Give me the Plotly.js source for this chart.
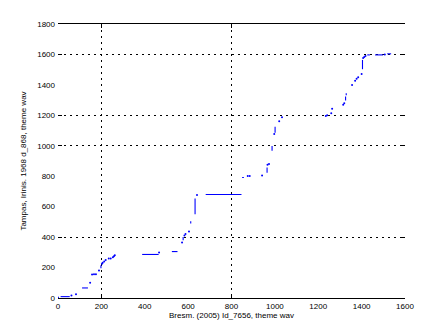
<!DOCTYPE html>
<html>
<head>
<meta charset="utf-8">
<script src="https://cdn.plot.ly/plotly-3.0.1.min.js"></script>
<style>html,body{margin:0;padding:0;background:#fff;}#chart{width:447px;height:335px;}</style>
</head>
<body>
<div id="chart"></div>
<script>
// isolated points
const dotsX = [0, 62, 83, 148, 157, 166, 175, 189, 203, 206, 213, 220, 234, 243, 253, 258, 262,
  466, 572, 583, 588, 604, 641, 875, 884, 941, 966, 973, 997, 1020, 1033,
  1235, 1241, 1260, 1264, 1315, 1320, 1356, 1370, 1377, 1384, 1400, 1407, 1412, 1418, 1507];
const dotsY = [3, 16, 24, 101, 154, 156, 156, 180, 225, 232, 240, 250, 259, 259, 268, 275, 281,
  299, 364, 411, 421, 437, 676, 801, 801, 805, 876, 881, 1078, 1161, 1187,
  1196, 1200, 1213, 1244, 1270, 1280, 1400, 1428, 1440, 1451, 1472, 1576, 1583, 1589, 1599];
// runs of points (start/end pairs, null-separated)
const runsX = [12, 54, null, 111, 138, null, 198, 198, null, 388, 464, null, 525, 551, null,
  577, 577, null, 612, 612, null, 632, 632, null, 681, 846, null, 849, 857, null,
  964, 964, null, 987, 987, null, 1001, 1001, null, 1326, 1326, null, 1329, 1329, null,
  1404, 1404, null, 1426, 1438, null, 1462, 1499, null, 1518, 1536];
const runsY = [9, 9, null, 66, 66, null, 195, 215, null, 286, 286, null, 305, 305, null,
  380, 400, null, 490, 505, null, 551, 654, null, 680, 680, null, 792, 792, null,
  823, 858, null, 967, 998, null, 1086, 1125, null, 1297, 1323, null, 1332, 1345, null,
  1503, 1564, null, 1597, 1597, null, 1597, 1597, null, 1604, 1604];

const xTicks = [0, 200, 400, 600, 800, 1000, 1200, 1400, 1600];
const yTicks = [0, 200, 400, 600, 800, 1000, 1200, 1400, 1600, 1800];
const xGrid = [200, 800];
const yGrid = [400, 1000, 1200, 1600];
const xTitle = 'Bresm. (2005) Id_7656, theme wav';
const yTitle = 'Tampas, Irinis. 1968 d_868, theme wav';

const F = {family: 'Liberation Sans, Arial, sans-serif', size: 8, color: '#000'};
const traces = [
  {x: runsX, y: runsY, mode: 'lines', connectgaps: false, line: {color: '#0000ff', width: 1.1}, hoverinfo: 'skip'},
  {x: dotsX, y: dotsY, mode: 'markers', marker: {color: '#0000ff', size: 2}, hoverinfo: 'skip'},
  {x: [null], y: [null], xaxis: 'x2', yaxis: 'y2', mode: 'markers', hoverinfo: 'skip'}
];
const layout = {
  width: 447, height: 335,
  margin: {l: 58, r: 42, t: 24, b: 37},
  paper_bgcolor: '#fff', plot_bgcolor: '#fff',
  showlegend: false,
  font: F,
  xaxis: {range: [0, 1600], tickvals: xTicks, ticktext: xTicks.map(String), showgrid: false, zeroline: false,
    showline: true, mirror: true, linecolor: '#000', linewidth: 1, ticks: '', tickfont: F,
    title: {text: xTitle, font: F, standoff: 2}, automargin: false},
  yaxis: {range: [0, 1800], tickvals: yTicks, ticktext: yTicks.map(String), showgrid: false, zeroline: false,
    showline: false, ticks: '', tickfont: F, ticklabelstandoff: 2,
    title: {text: yTitle, font: F, standoff: 9}, automargin: false},
  xaxis2: {overlaying: 'x', anchor: 'y2', range: [0, 1600], tickvals: xGrid, showticklabels: false,
    showgrid: true, griddash: '2px,4px', gridcolor: '#000', gridwidth: 1, ticks: 'inside', ticklen: 4,
    tickcolor: '#000', mirror: 'ticks', zeroline: false, showline: false},
  yaxis2: {overlaying: 'y', anchor: 'x2', range: [0, 1800], tickvals: yGrid, showticklabels: false,
    showgrid: true, griddash: '2px,4px', gridcolor: '#000', gridwidth: 1, ticks: 'inside', ticklen: 4,
    tickcolor: '#000', mirror: 'ticks', zeroline: false, showline: false}
};
Plotly.newPlot('chart', traces, layout, {staticPlot: true, displayModeBar: false});
</script>
</body>
</html>
